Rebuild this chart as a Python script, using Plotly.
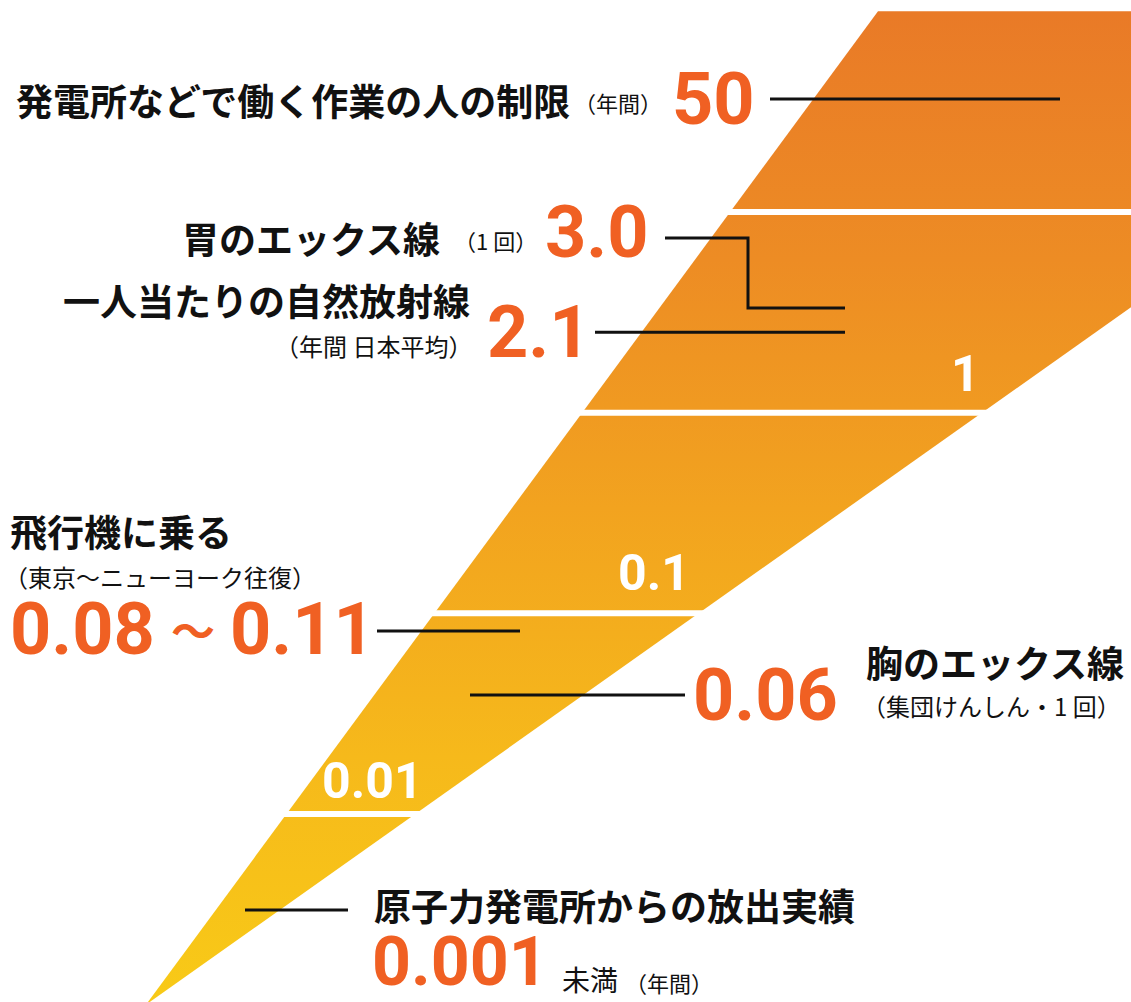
import plotly.graph_objects as go
import numpy as np

W, H = 1131, 1002

# ---- data -------------------------------------------------------------
decade_levels = [10, 1, 0.1, 0.01]          # white divider lines (mSv)
band_labels = ["1", "0.1", "0.01"]          # labels shown inside wedge
band_label_xy = [(965, 374), (654, 573), (372, 781)]

items = ["発電所などで働く作業の人の制限", "胃のエックス線", "一人当たりの自然放射線",
         "飛行機に乗る", "胸のエックス線", "原子力発電所からの放出実績"]
values_txt = ["50", "3.0", "2.1", "0.08～0.11", "0.06", "0.001"]
# level (mSv, log axis) at which each leader line is drawn in the picture
leader_level = [36.6, 3.32, 2.52, 0.0817, 0.0392, 0.00332]
leader_start_level_stomach = 7.42
leader_x = [(770, 1060), (665, 845), (595, 845), (377, 520), (470, 685), (245, 348)]

# ---- geometry of the wedge (log axis, 200.67 px per decade) ------------
top_level = 100
ymin_log, ymax_log = -2.9368, 2.0565
apex = (146, 10 ** -2.95)
top_left_x = 878
right_edge_far_x = 1549

GRAD = [[0.0, "#F8CA17"], [0.25, "#F6B91B"], [0.5, "#F2A31F"],
        [0.75, "#ED8C24"], [1.0, "#E97A27"]]

fig = go.Figure()

fig.add_trace(go.Scatter(
    x=[apex[0], top_left_x, right_edge_far_x, apex[0]],
    y=[apex[1], top_level, top_level, apex[1]],
    mode="lines", line=dict(width=0), fill="toself",
    fillgradient=dict(type="vertical", colorscale=GRAD),
    hoverinfo="skip"))

for lv in decade_levels:
    fig.add_trace(go.Scatter(x=[0, W], y=[lv, lv], mode="lines",
                             line=dict(color="white", width=6), hoverinfo="skip"))

# leader lines
for i, (x0, x1) in enumerate(leader_x):
    if i == 1:
        xm = 748
        fig.add_trace(go.Scatter(
            x=[x0, xm, xm, x1],
            y=[leader_start_level_stomach, leader_start_level_stomach,
               leader_level[i], leader_level[i]],
            mode="lines", line=dict(color="#111111", width=3), hoverinfo="skip"))
    else:
        fig.add_trace(go.Scatter(x=[x0, x1], y=[leader_level[i]] * 2, mode="lines",
                                 line=dict(color="#111111", width=3), hoverinfo="skip"))

CJK = "Noto Sans CJK JP"
NUM = "Roboto"
ORANGE = "#F06023"
NS = 72

def px(x):
    return x / W

def py(y):
    return 1 - y / H

anns = []

def txt(s, x, y, size, anchor="left", color="#111111", family=CJK, bold=True):
    anns.append(dict(text=("<b>%s</b>" % s) if bold else s, x=px(x), y=py(y),
                     xref="paper", yref="paper", xanchor=anchor, yanchor="middle",
                     showarrow=False, font=dict(family=family, size=size, color=color)))

# 1
txt(items[0], 14, 100, 37)
txt("（年間）", 572, 102, 22, bold=False)
txt(values_txt[0], 757, 99, NS, anchor="right", color=ORANGE, family=NUM)
# 2
txt(items[1], 442, 238, 37, anchor="right")
txt("（1 回）", 452, 240, 22, bold=False)
txt(values_txt[1], 543, 232, NS, color=ORANGE, family=NUM)
# 3
txt(items[2], 472, 300, 37, anchor="right")
txt("（年間 日本平均）", 474, 345, 24, anchor="right", bold=False)
txt(values_txt[2], 485, 332, NS, color=ORANGE, family=NUM)
# 4
txt(items[3], 8, 531, 37)
txt("（東京～ニューヨーク往復）", 2, 576, 24, bold=False)
lo, hi = values_txt[3].split("～")
txt(lo, 8, 629, NS, color=ORANGE, family=NUM)
txt("～", 193, 629, 44, anchor="center", color=ORANGE, family=CJK)
txt(hi, 228, 629, NS, color=ORANGE, family=NUM)
# 5
txt(values_txt[4], 840, 695, NS, anchor="right", color=ORANGE, family=NUM)
txt(items[4], 864, 662, 37)
txt("（集団けんしん・1 回）", 860, 705, 24, bold=False)
# 6
txt(items[5], 372, 905, 37)
txt(values_txt[5], 370, 962, 68, color=ORANGE, family=NUM)
txt("未満", 560, 979, 28, bold=False)
txt("（年間）", 623, 982, 22, bold=False)

for lab, (x, y) in zip(band_labels, band_label_xy):
    txt(lab, x, y, 50, anchor="center", color="white", family=NUM)

fig.update_layout(
    width=W, height=H, autosize=False,
    margin=dict(l=0, r=0, t=0, b=0),
    paper_bgcolor="white", plot_bgcolor="white",
    showlegend=False, annotations=anns,
    xaxis=dict(range=[0, W], visible=False, fixedrange=True),
    yaxis=dict(type="log", range=[ymin_log, ymax_log], visible=False, fixedrange=True),
)

fig.write_html("out.html")
